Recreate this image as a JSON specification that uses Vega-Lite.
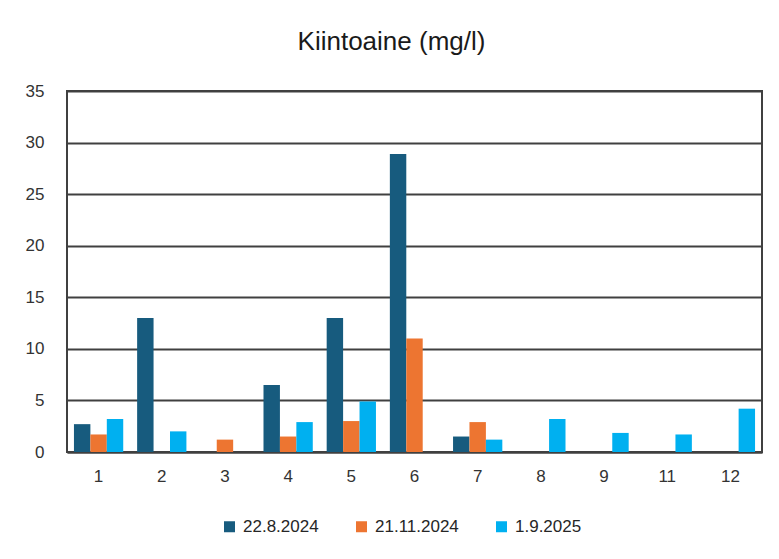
{
  "$schema": "https://vega.github.io/schema/vega-lite/v6.json",
  "width": 695,
  "height": 361,
  "autosize": {"type": "none"},
  "padding": {"left": 67, "top": 91, "right": 17, "bottom": 107},
  "background": "white",
  "title": {
    "text": "Kiintoaine (mg/l)",
    "font": "Liberation Sans",
    "fontSize": 26,
    "fontWeight": "normal",
    "color": "#1a1a1a",
    "baseline": "alphabetic",
    "offset": 6,
    "anchor": "middle",
    "dx": -23
  },
  "data": {
    "values": [
      {"paikka": "1", "pvm": "22.8.2024", "arvo": 2.7},
      {"paikka": "1", "pvm": "21.11.2024", "arvo": 1.7},
      {"paikka": "1", "pvm": "1.9.2025", "arvo": 3.2},
      {"paikka": "2", "pvm": "22.8.2024", "arvo": 13},
      {"paikka": "2", "pvm": "1.9.2025", "arvo": 2.0},
      {"paikka": "3", "pvm": "21.11.2024", "arvo": 1.2},
      {"paikka": "4", "pvm": "22.8.2024", "arvo": 6.5},
      {"paikka": "4", "pvm": "21.11.2024", "arvo": 1.5},
      {"paikka": "4", "pvm": "1.9.2025", "arvo": 2.9},
      {"paikka": "5", "pvm": "22.8.2024", "arvo": 13},
      {"paikka": "5", "pvm": "21.11.2024", "arvo": 3.0},
      {"paikka": "5", "pvm": "1.9.2025", "arvo": 4.9},
      {"paikka": "6", "pvm": "22.8.2024", "arvo": 28.9},
      {"paikka": "6", "pvm": "21.11.2024", "arvo": 11},
      {"paikka": "7", "pvm": "22.8.2024", "arvo": 1.5},
      {"paikka": "7", "pvm": "21.11.2024", "arvo": 2.9},
      {"paikka": "7", "pvm": "1.9.2025", "arvo": 1.2},
      {"paikka": "8", "pvm": "1.9.2025", "arvo": 3.2},
      {"paikka": "9", "pvm": "1.9.2025", "arvo": 1.85},
      {"paikka": "11", "pvm": "1.9.2025", "arvo": 1.7},
      {"paikka": "12", "pvm": "1.9.2025", "arvo": 4.2}
    ]
  },
  "mark": {"type": "bar"},
  "encoding": {
    "x": {
      "field": "paikka",
      "type": "nominal",
      "sort": ["1", "2", "3", "4", "5", "6", "7", "8", "9", "11", "12"],
      "scale": {"paddingInner": 0.22, "paddingOuter": 0.11},
      "axis": {
        "title": null,
        "labelAngle": 0,
        "labelFontSize": 17,
        "labelFont": "Liberation Sans",
        "labelColor": "#333333",
        "labelPadding": 16,
        "labelBaseline": "top",
        "ticks": false,
        "tickSize": 0,
        "domain": true,
        "domainColor": "#404040",
        "domainWidth": 2,
        "grid": false
      }
    },
    "xOffset": {
      "field": "pvm",
      "type": "nominal",
      "sort": ["22.8.2024", "21.11.2024", "1.9.2025"]
    },
    "y": {
      "field": "arvo",
      "type": "quantitative",
      "scale": {"domain": [0, 35], "nice": false},
      "axis": {
        "title": null,
        "values": [0, 5, 10, 15, 20, 25, 30, 35],
        "labelFontSize": 17,
        "labelFont": "Liberation Sans",
        "labelColor": "#333333",
        "labelPadding": 23,
        "ticks": false,
        "tickSize": 0,
        "domain": false,
        "grid": true,
        "gridColor": "#404040",
        "gridWidth": 1.8
      }
    },
    "color": {
      "field": "pvm",
      "type": "nominal",
      "sort": ["22.8.2024", "21.11.2024", "1.9.2025"],
      "scale": {
        "domain": ["22.8.2024", "21.11.2024", "1.9.2025"],
        "range": ["#175b7e", "#ed7531", "#00b0f0"]
      },
      "legend": {
        "title": null,
        "orient": "none",
        "direction": "horizontal",
        "legendX": 154,
        "legendY": 427,
        "symbolType": "square",
        "symbolSize": 121,
        "symbolStrokeWidth": 0,
        "labelFontSize": 17,
        "labelFont": "Liberation Sans",
        "labelColor": "#262626",
        "labelOffset": 5,
        "columnPadding": 34
      }
    }
  },
  "config": {
    "view": {"stroke": "#404040", "strokeWidth": 2}
  }
}
